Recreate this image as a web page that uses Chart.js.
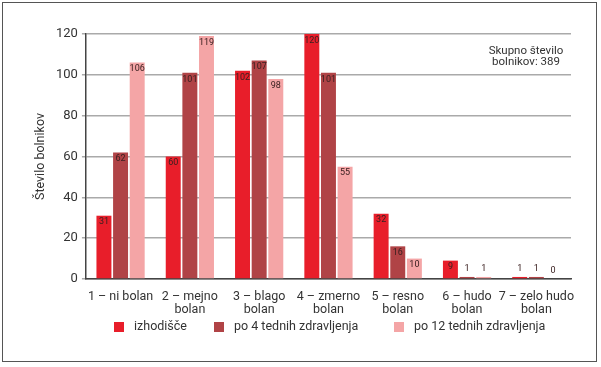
<!DOCTYPE html>
<html lang="sl">
  <head>
    <meta charset="UTF-8" />
    <title>Število bolnikov</title>
    <style>
      body {
        margin: 0;
        background: #fff;
      }
      .frame {
        position: absolute;
        left: 2px;
        top: 2px;
        width: 593px;
        height: 358px;
        border: 1.5px solid #555;
      }
      .note {
        position: absolute;
        left: 481px;
        top: 45px;
        width: 90px;
        text-align: center;
        font: 11.5px Roboto, sans-serif;
        line-height: 11px;
        color: #333;
      }
    </style>
    <script src="https://cdn.jsdelivr.net/npm/chart.js"></script>
  </head>
  <body>
    <div class="frame">
      <canvas id="myChart" width="593" height="358"></canvas>
    </div>
    <div class="note">Skupno število<br>bolnikov: 389</div>

    <script>
      const categories = [
        ['1 – ni bolan'],
        ['2 – mejno', 'bolan'],
        ['3 – blago', 'bolan'],
        ['4 – zmerno', 'bolan'],
        ['5 – resno', 'bolan'],
        ['6 – hudo', 'bolan'],
        ['7 – zelo hudo', 'bolan']
      ];
      const izhodisce = [31, 60, 102, 120, 32, 9, 1];
      const po4 = [62, 101, 107, 101, 16, 1, 1];
      const po12 = [106, 119, 98, 55, 10, 1, 0];
      const yTicks = [0, 20, 40, 60, 80, 100, 120];

      // x of each legend box on the canvas
      const legendX = [111, 211, 391];

      // value labels at top of each bar (above it when the bar is too short)
      const barLabels = {
        id: 'barLabels',
        afterDatasetsDraw(chart) {
          const ctx = chart.ctx;
          ctx.save();
          ctx.font = '9px Roboto, sans-serif';
          ctx.fillStyle = '#3a2020';
          ctx.textAlign = 'center';
          chart.data.datasets.forEach((ds, i) => {
            chart.getDatasetMeta(i).data.forEach((bar, j) => {
              const h = bar.base - bar.y;
              if (h > 12) {
                ctx.textBaseline = 'top';
                ctx.fillText(ds.data[j], bar.x, bar.y + 2);
              } else {
                ctx.textBaseline = 'bottom';
                ctx.fillText(ds.data[j], bar.x, bar.y - 4);
              }
            });
          });
          ctx.restore();
        }
      };

      // simple legend row under the axis labels
      const bottomLegend = {
        id: 'bottomLegend',
        afterDraw(chart) {
          const ctx = chart.ctx;
          const y = chart.height - 34;
          ctx.save();
          ctx.font = '12.5px Roboto, sans-serif';
          ctx.textBaseline = 'middle';
          chart.data.datasets.forEach((ds, i) => {
            ctx.fillStyle = ds.backgroundColor;
            ctx.fillRect(legendX[i], y - 5, 10, 10);
            ctx.fillStyle = '#333';
            ctx.fillText(ds.label, legendX[i] + 20, y);
          });
          ctx.restore();
        }
      };

      const ctx = document.getElementById('myChart').getContext('2d');
      const myChart = new Chart(ctx, {
        type: 'bar',
        data: {
          labels: categories,
          datasets: [
            { label: 'izhodišče', data: izhodisce, backgroundColor: '#e81e2a' },
            { label: 'po 4 tednih zdravljenja', data: po4, backgroundColor: '#b04346' },
            { label: 'po 12 tednih zdravljenja', data: po12, backgroundColor: '#f4a5a6' }
          ]
        },
        options: {
          responsive: false,
          animation: false,
          layout: { padding: { top: 31, right: 25, left: 26, bottom: 41 } },
          datasets: {
            bar: { categoryPercentage: 0.72, barPercentage: 0.9 }
          },
          scales: {
            x: {
              grid: { display: false },
              border: { color: '#444', width: 1.5 },
              ticks: {
                color: '#333',
                font: { family: 'Roboto', size: 12.5, lineHeight: 1.0 },
                maxRotation: 0,
                autoSkip: false,
                padding: 4
              }
            },
            y: {
              min: 0,
              max: 120,
              afterBuildTicks: (axis) => { axis.ticks = yTicks.map(v => ({ value: v })); },
              grid: { color: '#aaa', lineWidth: 1.5, tickLength: 4 },
              border: { color: '#444', width: 1.5 },
              ticks: {
                color: '#333',
                font: { family: 'Roboto', size: 13 },
                padding: 4
              },
              title: {
                display: true,
                text: 'Število bolnikov',
                color: '#333',
                font: { family: 'Roboto', size: 12.5 },
                padding: { bottom: 4 }
              }
            }
          },
          plugins: {
            legend: { display: false },
            tooltip: { enabled: false }
          }
        },
        plugins: [barLabels, bottomLegend]
      });
    </script>
  </body>
</html>
